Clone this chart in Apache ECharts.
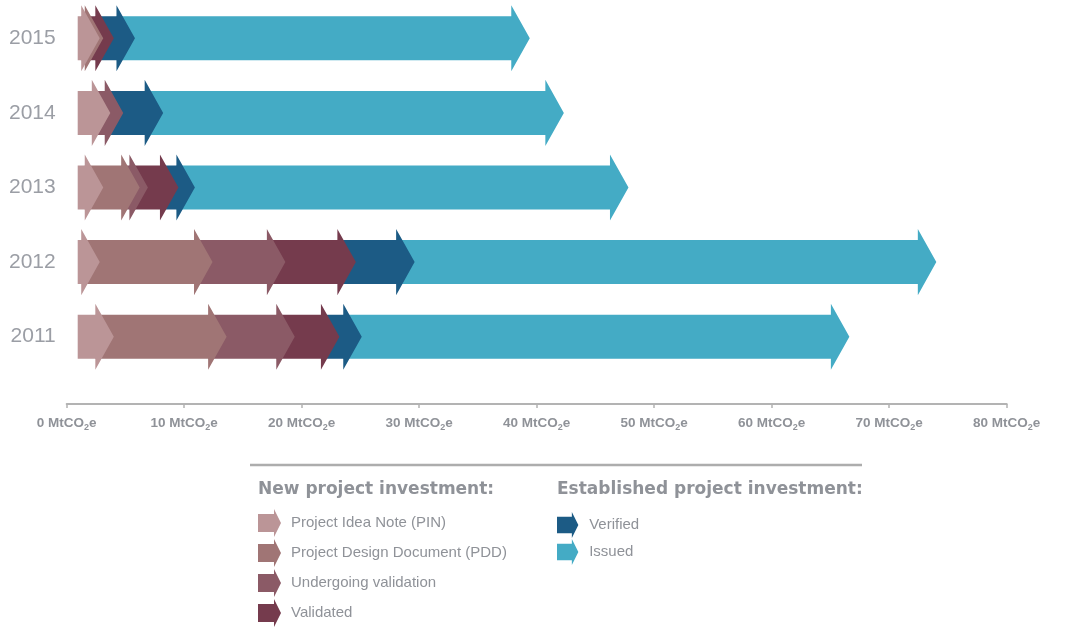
<!DOCTYPE html>
<html>
<head>
<meta charset="utf-8">
<script src="https://cdn.jsdelivr.net/npm/echarts@6/dist/echarts.min.js"></script>
<style>
  html, body { margin: 0; padding: 0; background: #fff; }
  #chart { width: 1091px; height: 630px; }
</style>
</head>
<body>
<div id="chart"></div>
<script>
// years, bottom to top
const years = ['2011', '2012', '2013', '2014', '2015']
// MtCO2e per stage
const pin = [1.5, 0.3, 0.6, 1.2, 0.3]
const pdd = [9.6, 9.6, 3.1, 0, 0.3]
const undergoing = [5.8, 6.2, 0.7, 1.1, 0]
const validated = [3.8, 6.0, 2.6, 0, 0.9]
const verified = [1.9, 5.0, 1.4, 3.4, 1.8]
const issued = [41.5, 44.4, 36.9, 34.1, 33.6]
const xTicks = [0, 10, 20, 30, 40, 50, 60, 70, 80]

const stages = [
  { name: 'Project Idea Note (PIN)', values: pin, color: '#bb9597' },
  { name: 'Project Design Document (PDD)', values: pdd, color: '#a07575' },
  { name: 'Undergoing validation', values: undergoing, color: '#8b5a66' },
  { name: 'Validated', values: validated, color: '#753b4d' },
  { name: 'Verified', values: verified, color: '#1c5b85' },
  { name: 'Issued', values: issued, color: '#44abc5' },
]

const textGray = '#8f9298'
const narrow = '"Liberation Sans", sans-serif'
const arrowIcon = 'path://M0,5L16,5L16,0L23,14L16,28L16,23L0,23Z'

// arrow segment: rectangle plus a head that sticks out past the end
function renderArrow(params, api) {
  const start = api.value(0)
  const end = api.value(1)
  if (end - start <= 0) return null
  const cat = api.value(2)
  const p0 = api.coord([start, cat])
  const p1 = api.coord([end, cat])
  const band = api.size([0, 1])[1]
  const half = band * 0.295
  const barb = band * 0.148
  const head = 18.5
  const cy = p0[1]
  return {
    type: 'polygon',
    shape: {
      points: [
        [p0[0], cy - half],
        [p1[0], cy - half],
        [p1[0], cy - half - barb],
        [p1[0] + head, cy],
        [p1[0], cy + half + barb],
        [p1[0], cy + half],
        [p0[0], cy + half],
      ],
    },
    style: { fill: api.visual('color') },
  }
}

// stack the stages
const running = years.map(() => 0)
const series = stages.map((st, i) => {
  const data = st.values.map((v, k) => {
    const s = running[k]
    running[k] += v
    return [s, running[k], k]
  })
  return {
    name: st.name,
    type: 'custom',
    xAxisIndex: 0,
    yAxisIndex: 0,
    z: 20 - i, // earlier stage heads sit on top
    itemStyle: { color: st.color },
    encode: { x: [0, 1], y: 2 },
    renderItem: renderArrow,
    data: data,
  }
})

const legendText = { fontFamily: narrow, fontSize: 15, color: textGray, padding: [0, 0, 0, 5] }

const chart = echarts.init(document.getElementById('chart'))
chart.setOption({
  animation: false,
  grid: [
    { left: 77.7, top: 1, width: 940, height: 373, outerBoundsMode: 'none' }, // arrows
    { left: 66.7, top: 1, width: 940, height: 373, outerBoundsMode: 'none' }, // visible scale
  ],
  xAxis: [
    { type: 'value', gridIndex: 0, min: 0, max: 80, show: false },
    {
      type: 'value',
      gridIndex: 1,
      min: xTicks[0],
      max: xTicks[xTicks.length - 1],
      interval: 10,
      offset: 30,
      axisLine: { show: true, lineStyle: { color: '#b3b3b3', width: 2 } },
      axisTick: { show: true, length: 4, lineStyle: { color: '#b3b3b3', width: 1.5 } },
      splitLine: { show: false },
      axisLabel: {
        margin: 11,
        formatter: (v) => '{a|' + v + ' MtCO}{s|2}{a|e}',
        rich: {
          a: { fontFamily: narrow, fontSize: 13.5, fontWeight: 'bold', color: textGray },
          s: { fontFamily: narrow, fontSize: 9, fontWeight: 'bold', color: textGray, padding: [8, 0, 0, 0] },
        },
      },
    },
  ],
  yAxis: [
    {
      type: 'category',
      gridIndex: 0,
      data: years,
      axisLine: { show: false },
      axisTick: { show: false },
      axisLabel: { margin: 22, fontFamily: narrow, fontSize: 21, color: '#9b9ea5' },
    },
    { type: 'category', gridIndex: 1, data: years, show: false },
  ],
  legend: [
    {
      data: stages.slice(0, 4).map((s) => s.name),
      orient: 'vertical',
      left: 258,
      top: 509,
      padding: 0,
      itemWidth: 23,
      itemHeight: 28,
      itemGap: 2,
      icon: arrowIcon,
      selectedMode: false,
      textStyle: legendText,
    },
    {
      data: stages.slice(4).map((s) => s.name),
      orient: 'vertical',
      left: 557,
      top: 512,
      padding: 0,
      itemWidth: 23,
      itemHeight: 26,
      itemGap: 1,
      icon: arrowIcon,
      selectedMode: false,
      textStyle: legendText,
    },
  ],
  graphic: [
    {
      type: 'line',
      shape: { x1: 250, y1: 465, x2: 862, y2: 465 },
      style: { stroke: '#adadad', lineWidth: 2.5 },
    },
    {
      type: 'text',
      left: 258,
      top: 481,
      style: { text: 'New project investment:', font: 'bold 17px "DejaVu Sans"', fill: textGray },
    },
    {
      type: 'text',
      left: 557,
      top: 481,
      style: { text: 'Established project investment:', font: 'bold 17px "DejaVu Sans"', fill: textGray },
    },
  ],
  series: series,
})
</script>
</body>
</html>
